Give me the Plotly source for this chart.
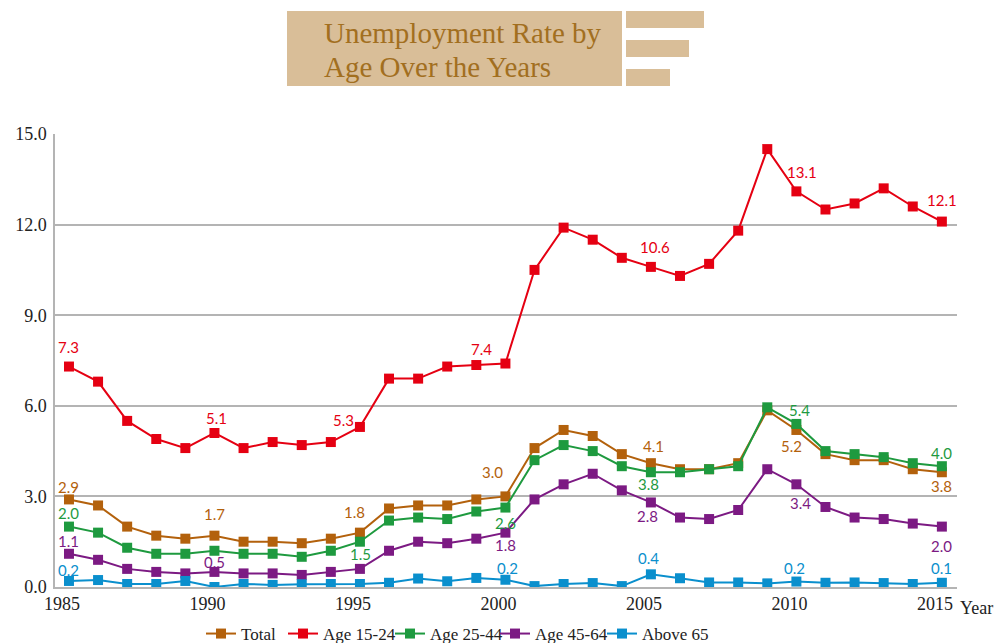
import plotly.graph_objects as go

years = list(range(1985, 2016))
total = [2.9, 2.7, 2.0, 1.7, 1.6, 1.7, 1.5, 1.5, 1.45, 1.6, 1.8, 2.6, 2.7, 2.7, 2.9, 3.0,
         4.6, 5.2, 5.0, 4.4, 4.1, 3.9, 3.9, 4.1, 5.85, 5.2, 4.4, 4.2, 4.2, 3.9, 3.8]
age_15_24 = [7.3, 6.8, 5.5, 4.9, 4.6, 5.1, 4.6, 4.8, 4.7, 4.8, 5.3, 6.9, 6.9, 7.3, 7.35, 7.4,
             10.5, 11.9, 11.5, 10.9, 10.6, 10.3, 10.7, 11.8, 14.5, 13.1, 12.5, 12.7, 13.2, 12.6, 12.1]
age_25_44 = [2.0, 1.8, 1.3, 1.1, 1.1, 1.2, 1.1, 1.1, 1.0, 1.2, 1.5, 2.2, 2.3, 2.25, 2.5, 2.63,
             4.2, 4.7, 4.5, 4.0, 3.8, 3.8, 3.9, 4.0, 5.95, 5.4, 4.5, 4.4, 4.3, 4.1, 4.0]
age_45_64 = [1.1, 0.9, 0.6, 0.5, 0.45, 0.5, 0.45, 0.45, 0.4, 0.5, 0.6, 1.2, 1.5, 1.45, 1.6, 1.8,
             2.9, 3.4, 3.75, 3.2, 2.8, 2.3, 2.25, 2.55, 3.9, 3.4, 2.65, 2.3, 2.25, 2.1, 2.0]
above_65 = [0.2, 0.23, 0.1, 0.1, 0.2, 0.0, 0.1, 0.07, 0.09, 0.1, 0.1, 0.14, 0.28, 0.19, 0.3, 0.24,
            0.03, 0.1, 0.13, 0.03, 0.42, 0.29, 0.15, 0.15, 0.12, 0.18, 0.14, 0.15, 0.13, 0.1, 0.14]

series_names = ["Total", "Age 15-24", "Age 25-44", "Age 45-64", "Above 65"]
series_values = [total, age_15_24, age_25_44, age_45_64, above_65]
colors = ["#B3610C", "#E50012", "#1E9A3F", "#7C1A83", "#0A8FCD"]

# label placement (style): year -> (xshift, yshift) in pixels
label_offsets = [
    {1985: (0, 12), 1990: (0, 22), 1995: (-5, 21), 2000: (-13, 24), 2005: (3, 17), 2010: (-5, -16), 2015: (0, -14)},
    {1985: (0, 20), 1990: (2, 15), 1995: (-16, 7), 2000: (-24, 15), 2005: (4, 20), 2010: (6, 19), 2015: (0, 22)},
    {1985: (0, 14), 1995: (1, -12), 2000: (0, -15), 2005: (-2, -12), 2010: (3, 14), 2015: (0, 13)},
    {1985: (0, 13), 1990: (0, 10), 2000: (0, -12), 2005: (-3, -14), 2010: (4, -19), 2015: (0, -19)},
    {1985: (0, 11), 2000: (2, 12), 2005: (-2, 16), 2010: (-2, 14), 2015: (0, 15)},
]
# legend entry left edges (px, style)
legend_x_px = [201, 283, 390, 495, 602]

legend_ids = ["legend", "legend2", "legend3", "legend4", "legend5"]

fig = go.Figure()
for name, vals, col, lid in zip(series_names, series_values, colors, legend_ids):
    fig.add_trace(go.Scatter(
        x=years, y=vals, name=name, mode="lines+markers",
        line=dict(color=col, width=2),
        marker=dict(symbol="square", size=10, color=col),
        legend=lid,
    ))

annotations = []
for vals, col, offs in zip(series_values, colors, label_offsets):
    for yr, (dx, dy) in offs.items():
        v = vals[years.index(yr)]
        annotations.append(dict(
            x=yr, y=v, xref="x", yref="y", text=f"{v:.1f}", showarrow=False,
            xshift=dx, yshift=dy, font=dict(family="Lato", size=15, color=col),
        ))

# plot area in pixels: x 55..957, y 134..587
def px(x):
    return (x - 55) / 902.0

def py(y):
    return (587 - y) / 453.0

title_color = "#A26F1F"
box_color = "#D9BE98"
shapes = [
    dict(type="rect", xref="paper", yref="paper", x0=px(287), x1=px(622), y0=py(86), y1=py(11),
         fillcolor=box_color, line=dict(width=0), layer="below"),
    dict(type="rect", xref="paper", yref="paper", x0=px(626), x1=px(704), y0=py(28), y1=py(11),
         fillcolor=box_color, line=dict(width=0), layer="below"),
    dict(type="rect", xref="paper", yref="paper", x0=px(626), x1=px(689), y0=py(57), y1=py(40),
         fillcolor=box_color, line=dict(width=0), layer="below"),
    dict(type="rect", xref="paper", yref="paper", x0=px(626), x1=px(670), y0=py(86), y1=py(69),
         fillcolor=box_color, line=dict(width=0), layer="below"),
]
annotations.append(dict(x=px(322), y=py(33), xref="paper", yref="paper", xanchor="left", yanchor="middle",
                        text="Unemployment Rate by", showarrow=False,
                        font=dict(family="Liberation Serif", size=29, color=title_color)))
annotations.append(dict(x=px(322), y=py(67), xref="paper", yref="paper", xanchor="left", yanchor="middle",
                        text="Age Over the Years", showarrow=False,
                        font=dict(family="Liberation Serif", size=29, color=title_color)))
annotations.append(dict(x=px(958), y=py(608), xref="paper", yref="paper", xanchor="left", yanchor="middle",
                        text="Year", showarrow=False,
                        font=dict(family="Liberation Serif", size=18, color="#222222")))

tick_years = [1985, 1990, 1995, 2000, 2005, 2010, 2015]

layout_kwargs = {}
for lid, lx in zip(legend_ids, legend_x_px):
    layout_kwargs[lid] = dict(orientation="h", x=px(lx), xanchor="left",
                              y=py(634), yanchor="middle",
                              font=dict(family="Liberation Serif", size=17, color="#222222"),
                              bgcolor="rgba(0,0,0,0)", itemwidth=30)

fig.update_layout(
    width=998, height=643,
    margin=dict(l=55, r=41, t=134, b=56, autoexpand=False),
    paper_bgcolor="white", plot_bgcolor="white",
    showlegend=True,
    shapes=shapes,
    annotations=annotations,
    xaxis=dict(range=[1984.52, 2015.52], tickvals=[y - 0.24 for y in tick_years],
               ticktext=[str(y) for y in tick_years], showgrid=False, zeroline=False,
               showline=True, linecolor="#B4B4B4", linewidth=1.5, ticks="",
               tickfont=dict(family="Liberation Serif", size=18, color="#222222")),
    yaxis=dict(range=[0, 15], tickvals=[0, 3, 6, 9, 12, 15], tickformat=".1f",
               showgrid=True, gridcolor="#B4B4B4", gridwidth=1.5, zeroline=False,
               showline=True, linecolor="#B4B4B4", linewidth=1.5, ticks="",
               ticklabelstandoff=3,
               tickfont=dict(family="Liberation Serif", size=18, color="#222222")),
    **layout_kwargs,
)

fig.write_html("out.html")
